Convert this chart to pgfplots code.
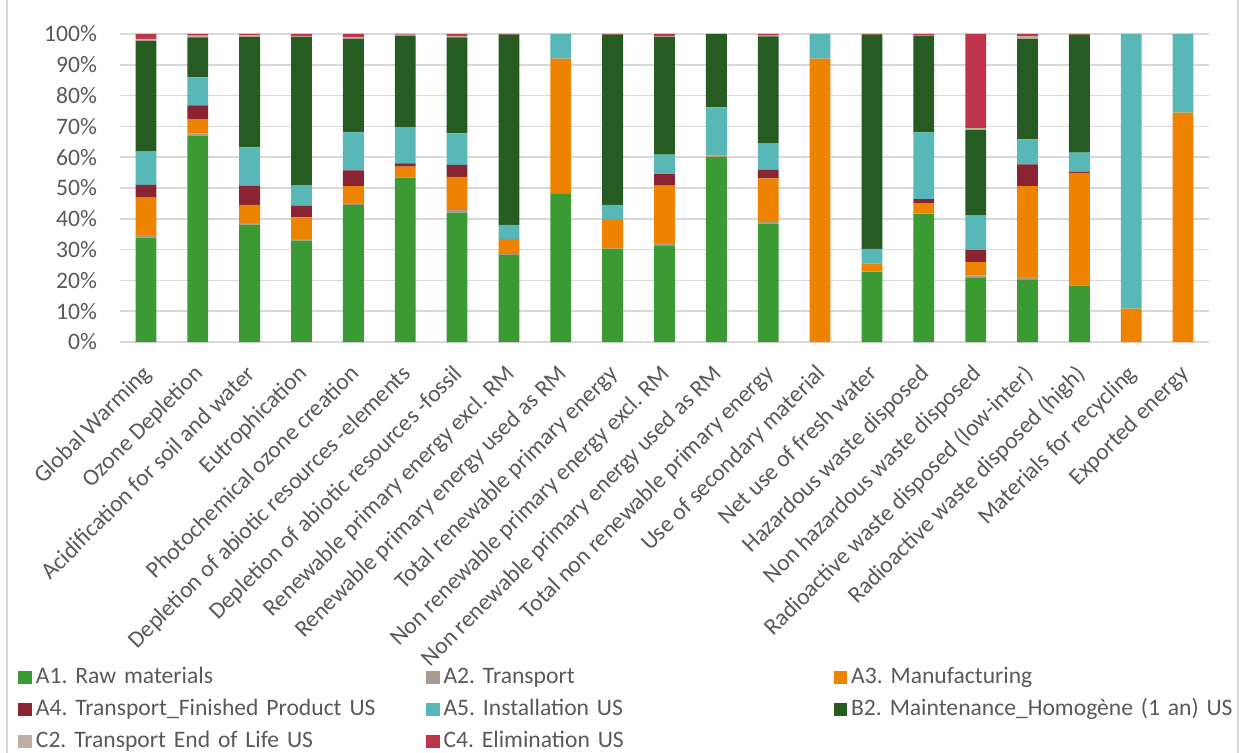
\documentclass[border=0pt]{standalone}
\usepackage{fontspec}
\setmainfont{Carlito}
\usepackage{pgfplots}
\usepackage{pgfplotstable}
\pgfplotsset{compat=1.18}
\frenchspacing

\definecolor{cA1}{HTML}{3C9A34}
\definecolor{cA2}{HTML}{A89A8E}
\definecolor{cA3}{HTML}{EE8300}
\definecolor{cA4}{HTML}{8A2332}
\definecolor{cA5}{HTML}{57B8B7}
\definecolor{cB2}{HTML}{265C21}
\definecolor{cC2}{HTML}{BEB1A4}
\definecolor{cC4}{HTML}{BF344A}
\definecolor{tickgrey}{HTML}{595959}
\definecolor{gridgrey}{HTML}{D9D9D9}

\newcommand{\chartfont}{\fontsize{11.8}{14}\selectfont}

% share of each stage, in %
\pgfplotstableread{
x  A1   A2  A3   A4  A5   B2   C2  C4
0  33.9 0.8 12.2 4.1 11.0 35.8 0.6 1.6
1  67.0 0.7 4.7  4.4 9.1  13.0 0.6 0.5
2  38.1 0.6 5.8  6.2 12.5 35.9 0.5 0.4
3  32.9 0.5 7.1  3.7 6.7  48.2 0.3 0.6
4  44.5 0.6 5.5  5.1 12.4 30.4 0.5 1.0
5  53.4 0.2 3.3  1.1 11.8 29.7 0.3 0.2
6  42.0 0.8 10.8 3.9 10.2 31.2 0.5 0.6
7  28.3 0.2 4.9  0.1 4.5  61.8 0.0 0.2
8  48.1 0.0 43.9 0.0 8.0  0.0  0.0 0.0
9  30.2 0.1 9.5  0.1 4.6  55.3 0.0 0.2
10 31.2 0.9 18.7 3.7 6.3  38.3 0.3 0.6
11 60.1 0.1 0.3  0.0 15.7 23.8 0.0 0.0
12 38.4 0.6 14.1 2.8 8.7  34.6 0.3 0.5
13 0.0  0.0 92.0 0.0 8.0  0.0  0.0 0.0
14 22.8 0.1 2.6  0.0 4.7  69.6 0.0 0.2
15 41.5 0.2 3.4  1.3 21.7 31.4 0.1 0.4
16 20.8 0.8 4.3  3.9 11.4 27.7 0.5 30.6
17 20.2 0.9 29.5 7.1 8.1  32.6 0.9 0.7
18 18.3 0.1 36.5 0.4 6.2  38.3 0.0 0.2
19 0.0  0.0 10.8 0.0 89.2 0.0  0.0 0.0
20 0.0  0.0 74.5 0.0 25.5 0.0  0.0 0.0
}\stages

\begin{document}
\begin{tikzpicture}[font=\chartfont]
\useasboundingbox (-60pt,-205.5pt) rectangle (560.5pt,171pt);
\draw[gridgrey, line width=0.75pt] (-56.6pt,-210pt) -- (-56.6pt,175pt);
\draw[gridgrey, line width=0.75pt] (559pt,-210pt) -- (559pt,175pt);
\begin{axis}[
	at={(0,0)}, anchor=south west,
	width=544.5pt, height=154pt, scale only axis,
	ybar stacked, bar width=10.4pt,
	xmin=-0.5, xmax=20.5, ymin=0, ymax=100,
	axis line style={draw=none},
	major tick length=0,
	ymajorgrids, grid style={gridgrey, line width=0.75pt},
	ytick={0,10,...,100},
	yticklabel={\pgfmathprintnumber{\tick}\%},
	/pgf/number format/assume math mode=true,
	tick label style={font=\chartfont, text=tickgrey},
	yticklabel style={xshift=-8pt},
	xtick={0,...,20},
	xticklabels={Global Warming, Ozone Depletion, Acidification for soil and water,
		Eutrophication, Photochemical ozone creation,
		Depletion of abiotic resources -elements, Depletion of abiotic resources -fossil,
		Renewable primary energy excl. RM, Renewable primary energy used as RM,
		Total renewable primary energy, Non renewable primary energy excl. RM,
		Non renewable primary energy used as RM, Total non renewable primary energy,
		Use of secondary material, Net use of fresh water, Hazardous waste disposed,
		Non hazardous waste disposed, Radioactive waste disposed (low-inter),
		Radioactive waste disposed (high), Materials for recycling, Exported energy},
	xticklabel style={inner sep=0pt, xshift=-2.5pt, yshift=-10.5pt, rotate=45, anchor=north east},
	every axis plot/.append style={draw=none},
	legend columns=3,
	legend cell align=left,
	legend image code/.code={\fill[#1] (0pt,-3.4pt) rectangle (6.8pt,3.4pt);},
	legend style={at={(axis description cs:-0.0937,-1.041)}, anchor=north west,
		draw=none, fill=none, inner sep=0pt, row sep=1.5pt, font=\chartfont,
		nodes={text width=193pt, align=left, inner sep=2pt,
			text height=8pt, text depth=2.5pt, text=tickgrey}},
]
\addplot[fill=cA1] table[x=x, y=A1] {\stages};
\addplot[fill=cA2] table[x=x, y=A2] {\stages};
\addplot[fill=cA3] table[x=x, y=A3] {\stages};
\addplot[fill=cA4] table[x=x, y=A4] {\stages};
\addplot[fill=cA5] table[x=x, y=A5] {\stages};
\addplot[fill=cB2] table[x=x, y=B2] {\stages};
\addplot[fill=cC2] table[x=x, y=C2] {\stages};
\addplot[fill=cC4] table[x=x, y=C4] {\stages};
\legend{A1. Raw materials, A2. Transport, A3. Manufacturing,
	A4. Transport\_Finished Product US, A5. Installation US,
	B2. Maintenance\_Homogène (1 an) US,
	C2. Transport End of Life US, C4. Elimination US}
\end{axis}
\end{tikzpicture}
\end{document}
